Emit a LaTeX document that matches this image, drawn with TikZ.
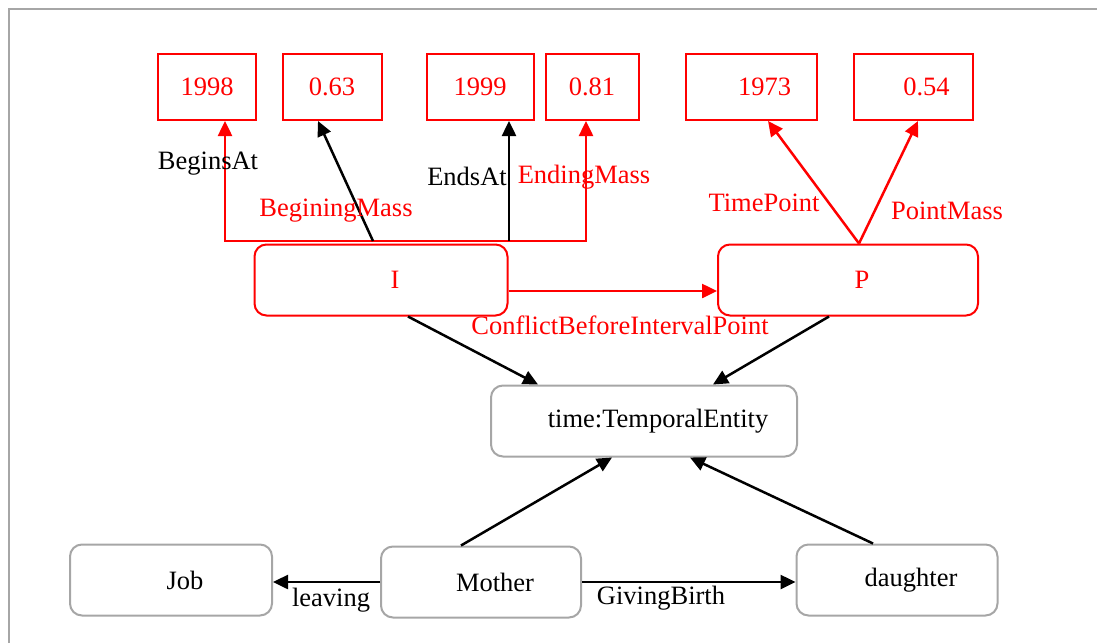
\documentclass[tikz,border=0pt]{standalone}
\usepackage{fontspec}
\setmainfont{Liberation Serif}
\usetikzlibrary{arrows.meta, calc}

\begin{document}
\begin{tikzpicture}[x=1pt, y=-1pt,
                    every node/.style={font=\fontsize{26.5}{30}\selectfont, inner sep=0pt},
                    literal/.style={rectangle, draw=red, line width=2pt, text=red, minimum height=66pt},
                    concept/.style={rectangle, rounded corners=12pt, draw=gray!70, line width=2pt, minimum height=71pt,
                                    execute at begin node={\hspace*{28pt}}},
                    red_concept/.style={concept, draw=red, text=red},
                    shift_txt/.style={execute at begin node={\hspace*{27pt}}},
                    rel_red/.style={-{Triangle[length=15pt, width=14pt]}, line width=2.5pt, red},
                    rel_black/.style={-{Triangle[length=15pt, width=14pt]}, line width=2.5pt, black},
                    lab_red/.style={text=red},
                    lab_black/.style={text=black}]

            \useasboundingbox (0,0) rectangle (1097,643);
            \draw[gray!70, line width=2pt] (9,643) -- (9,9) -- (1097,9);

            % literal values
            \node[literal, minimum width=98pt]  (y1998) at (207,87) {1998};
            \node[literal, minimum width=99pt]  (m063)  at (332,87) {0.63};
            \node[literal, minimum width=107pt] (y1999) at (480,87) {1999};
            \node[literal, minimum width=93pt]  (m081)  at (592,87) {0.81};
            \node[literal, shift_txt, minimum width=131pt] (y1973) at (751,87) {1973};
            \node[literal, shift_txt, minimum width=119pt] (m054)  at (913,87) {0.54};

            % classes
            \node[red_concept, minimum width=253pt] (I) at (381,280) {I};
            \node[red_concept, minimum width=260pt] (P) at (848,280) {P};
            \node[concept, minimum width=306pt] (T) at (644,421) {time:TemporalEntity};
            \node[concept, minimum width=202pt] (J) at (171,580) {Job};
            \node[concept, minimum width=200pt] (M) at (481,582) {Mother};
            \node[concept, minimum width=201pt] (D) at (897,580) {daughter};

            % interval properties
            \coordinate (ibus) at (373,241);
            \coordinate (ebus) at (509,241);
            \draw[rel_red] (ibus) -| ([xshift=18pt]y1998.south);
            \draw[rel_red] (ibus) -| ([xshift=-6pt]m081.south);
            \draw[rel_black] (ibus) -- ([xshift=-14pt]m063.south);
            \draw[rel_black] (ebus) -- (ebus |- y1999.south);

            \node[lab_black] (l_begins) at (208,164) {BeginsAt};
            \node[lab_red]   (l_bmass)  at (336,211) {BeginingMass};
            \node[lab_black] (l_ends)   at (467,176) {EndsAt};
            \node[lab_red]   (l_emass)  at (584,177) {EndingMass};

            % point properties
            \draw[rel_red] ([xshift=11pt]P.north) -- ([xshift=17pt]y1973.south);
            \draw[rel_red] ([xshift=11pt]P.north) -- ([xshift=5pt]m054.south);
            \node[lab_red] (l_tpoint) at (764,203) {TimePoint};
            \node[lab_red] (l_pmass)  at (947,211) {PointMass};

            \draw[rel_red] ([yshift=-11pt]I.east) -- ([yshift=-11pt]P.west);
            \node[lab_red] (l_conflict) at (620,325) {ConflictBeforeIntervalPoint};

            % subclass links
            \draw[rel_black] ([xshift=27pt]I.south) -- ([xshift=-106pt]T.north);
            \draw[rel_black] ([xshift=-19pt]P.south) -- ([xshift=69pt]T.north);
            \draw[rel_black] ([xshift=-20pt]M.north) -- ([xshift=-32pt]T.south);
            \draw[rel_black] ([xshift=-24pt]D.north) -- ([xshift=46pt]T.south);

            \draw[rel_black] (M.west) -- (M.west -| J.east);
            \draw[rel_black] (M.east) -- (M.east -| D.west);
            \node[lab_black] (l_leaving) at (331,600) {leaving};
            \node[lab_black] (l_birth)   at (661,598) {GivingBirth};
        \end{tikzpicture}
\end{document}
